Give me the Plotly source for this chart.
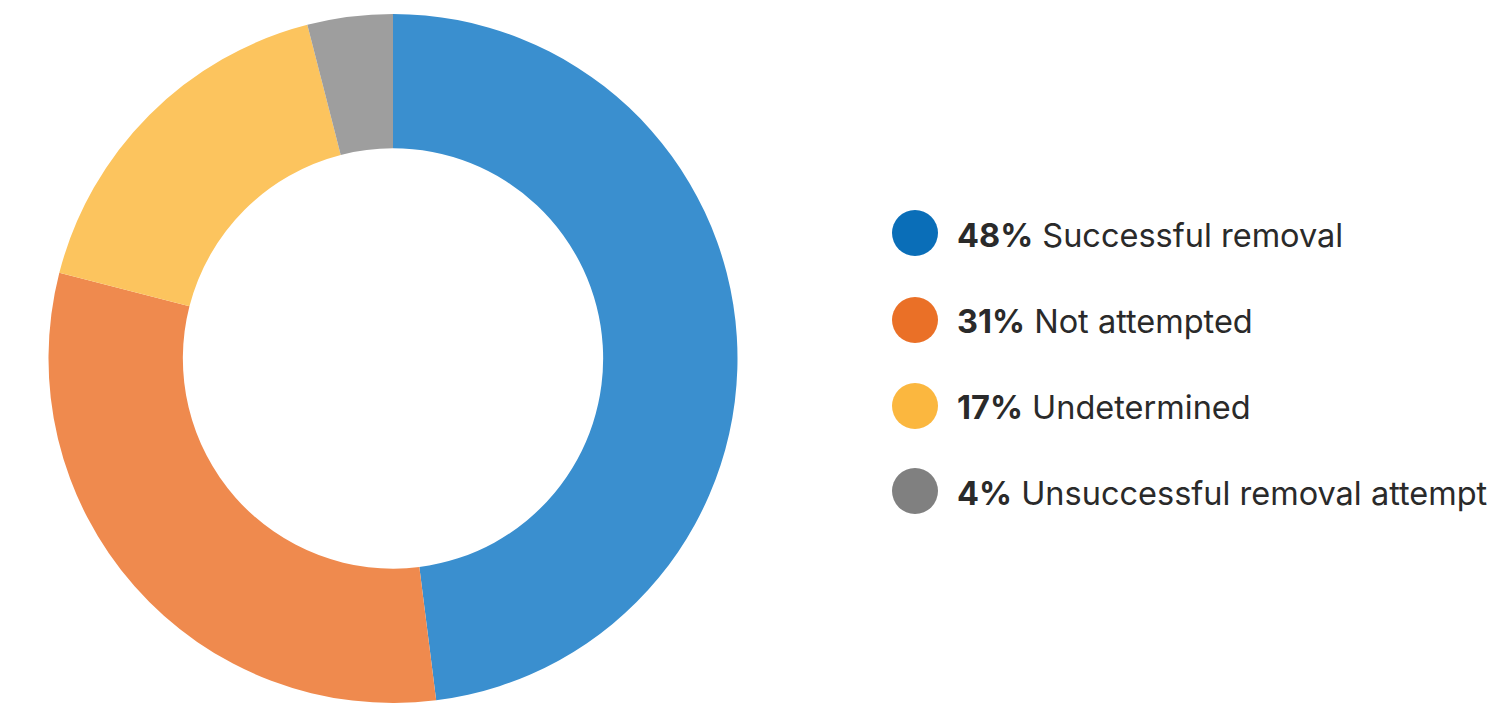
import plotly.graph_objects as go

# ---- data ----
categories = ["Successful removal", "Not attempted", "Undetermined", "Unsuccessful removal attempt"]
values = [48, 31, 17, 4]
colors = ["#3a8fcf", "#ef8a4e", "#fcc45e", "#9e9e9e"]
legend_colors = ["#0a6eb8", "#ea7027", "#fbb73f", "#808080"]

W, H = 1492, 703

# ---- layout constants ----
cx, cy, R = 393, 358.5, 344.5
hole = 0.61
leg_dot_x = 915
leg_dot_r = 23
leg_text_x = 955
leg_y = [235, 321, 407, 493]
font_family = "Inter, 'Open Sans', sans-serif"

fig = go.Figure()
fig.add_trace(go.Pie(
    labels=categories,
    values=values,
    sort=False,
    direction="clockwise",
    rotation=0,
    hole=hole,
    marker=dict(colors=colors, line=dict(width=0)),
    textinfo="none",
    hoverinfo="label+percent",
    showlegend=False,
    domain=dict(x=[(cx - R) / W, (cx + R) / W], y=[0, 1 - (cy - R) / H]),
))

shapes = []
annotations = []
for i, (lab, v) in enumerate(zip(categories, values)):
    yc = [233, 320, 406, 491][i]
    shapes.append(dict(
        type="circle", xref="paper", yref="paper",
        x0=(leg_dot_x - leg_dot_r) / W, x1=(leg_dot_x + leg_dot_r) / W,
        y0=1 - (yc + leg_dot_r) / H, y1=1 - (yc - leg_dot_r) / H,
        fillcolor=legend_colors[i], line=dict(width=0),
    ))
    annotations.append(dict(
        xref="paper", yref="paper", x=leg_text_x / W, y=1 - leg_y[i] / H,
        xanchor="left", yanchor="middle", showarrow=False,
        text=f"<b>{v}%</b> {lab}",
        font=dict(family=font_family, size=32.5, color="#2a2a2a"),
    ))

fig.update_layout(
    width=W, height=H,
    margin=dict(l=0, r=0, t=0, b=0),
    paper_bgcolor="white", plot_bgcolor="white",
    shapes=shapes, annotations=annotations,
)

fig.write_html("out.html")
